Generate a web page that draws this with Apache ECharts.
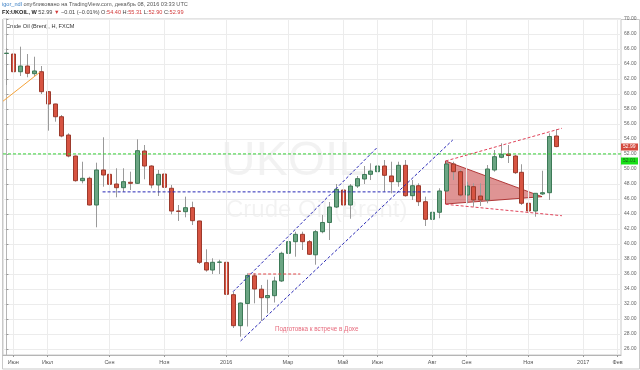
<!DOCTYPE html>
<html><head><meta charset="utf-8">
<script src="https://cdn.jsdelivr.net/npm/echarts/dist/echarts.min.js"></script>
<style>html,body{margin:0;padding:0;background:#fff}#c{width:640px;height:370px}</style>
</head><body><div id="c"></div>
<script>
// ---- weekly candles FX:UKOIL (week starting 2015-05-25 .. 2016-12-05)
const opens  = [65.40,65.33,62.97,63.73,62.71,62.97,60.31,58.67,56.97,54.53,51.73,48.44,48.76,45.20,49.87,49.29,48.00,47.51,48.23,48.09,52.40,50.40,47.87,49.33,47.43,44.40,44.31,44.84,43.07,37.51,36.53,37.56,37.56,33.24,29.11,32.07,35.76,33.97,32.84,33.11,35.07,38.76,40.31,41.29,40.31,38.56,41.64,42.87,44.93,47.20,45.20,47.73,48.67,49.29,49.64,50.40,49.07,48.31,50.49,46.44,47.77,45.64,43.29,44.23,47.07,50.67,49.64,46.53,47.64,46.40,45.87,49.87,51.56,52.00,51.73,49.56,45.43,44.40,46.67,46.84,54.40];
const closes = [65.45,62.97,63.73,62.76,63.07,60.31,58.67,56.97,54.40,51.73,48.44,48.76,45.20,49.87,49.20,47.96,47.51,48.31,48.09,52.44,50.40,47.87,49.29,47.56,44.40,44.35,44.84,43.11,37.56,36.53,37.56,37.60,33.29,29.11,32.13,35.80,34.00,32.84,33.13,35.07,38.76,40.31,41.29,40.31,38.63,41.64,42.87,44.93,47.29,45.20,47.73,48.71,49.27,49.73,50.40,49.16,48.31,50.49,46.44,47.77,45.64,43.29,44.23,47.07,50.67,49.64,46.53,47.73,45.87,45.87,50.00,51.64,51.96,51.80,49.51,45.43,44.40,46.76,46.84,54.33,52.99];
const lows   = [61.20,60.89,62.40,62.23,62.40,60.00,55.11,56.31,54.23,51.56,48.31,48.09,45.15,42.23,47.64,46.97,46.23,46.97,47.20,48.00,48.63,47.43,46.40,47.20,43.96,43.07,43.56,42.53,37.33,36.31,36.00,36.00,32.09,28.80,27.64,29.00,32.09,29.73,30.76,32.20,34.93,38.31,38.31,39.20,38.53,37.24,41.43,40.53,44.80,44.27,43.37,47.47,48.00,48.53,49.33,46.97,46.76,47.64,46.31,45.87,45.07,42.40,41.43,43.43,46.97,48.53,46.31,45.43,44.97,45.07,45.43,49.64,51.43,50.80,49.33,45.20,44.27,43.64,46.53,45.87,52.90];
const highs  = [66.10,65.64,66.31,65.33,64.97,63.73,60.40,58.70,57.20,54.76,51.80,50.97,48.97,50.84,54.23,50.13,50.09,50.09,49.64,53.96,53.20,50.50,49.87,50.84,47.87,45.20,46.31,45.64,43.10,39.29,38.09,37.90,38.84,33.60,32.20,36.09,36.09,34.53,35.24,35.64,38.97,41.07,41.64,41.64,40.53,41.87,43.87,45.60,48.00,47.43,48.00,49.07,50.40,50.76,52.76,51.20,50.97,50.97,51.20,48.53,48.09,46.31,44.53,47.43,51.20,50.97,49.87,48.31,48.09,48.10,50.53,52.53,53.43,53.20,51.87,50.63,45.60,46.80,49.77,54.76,55.31];

// x axis: 90 weekly slots, labels at selected weeks
const weekCount = 90;
const startWeek = '2015-05-25';
const tickIdx  = [1,6,15,23,32,41,49,54,62,67,76,84,89];
const tickText = ['Июн','Июл','Сен','Ноя','2016','Мар','Май','Июн','Авг','Сен','Ноя','2017','Фев'];

// drawings (x in week index, y in price)
const greenLevel = 52.01;
const blueLevelX = [14.0, 61.9], blueLevel = 46.95;
const redLevelX = [35.2, 42.8], redLevel = 36.0;
const chLowerX = [34.1, 65.0], chLowerY = [27.07, 53.87];
const chUpperX = [33.0, 54.1], chUpperY = [33.64, 52.97];
const orangeX = [-0.5, 4.85], orangeY = [59.04, 62.89];
const triX = [63.94, 63.94, 78.0], triY = [51.07, 45.33, 46.31];
const wedgeUpX = [63.97, 80.9], wedgeUpY = [51.07, 55.43];
const wedgeLoX = [63.97, 80.9], wedgeLoY = [45.29, 43.77];
const noteX = 39.1, noteY = 28.6, noteText = 'Подготовка к встрече в Дохе';
const lastPrice = 52.99;

const FONT = '"Liberation Sans", Arial, sans-serif';

const categories = [];
{
  const d0 = new Date(startWeek + 'T00:00:00Z');
  for (let i = 0; i < weekCount; i++) {
    const d = new Date(d0.getTime() + i * 7 * 86400000);
    categories.push(d.toISOString().slice(0, 10));
  }
}
const labelMap = {};
tickIdx.forEach((k, j) => { labelMap[k] = tickText[j]; });

const candleData = opens.map((o, i) => [i, o, closes[i], lows[i], highs[i]]);

function renderCandle(params, api) {
  const i = api.value(0), o = api.value(1), c = api.value(2), l = api.value(3), h = api.value(4);
  const pO = api.coord([i, o]), pC = api.coord([i, c]), pL = api.coord([i, l]), pH = api.coord([i, h]);
  const x = Math.round(pO[0]) + 0.5;
  const up = c >= o;
  const top = Math.min(pO[1], pC[1]), bot = Math.max(pO[1], pC[1]);
  return {
    type: 'group',
    children: [
      { type: 'line', shape: { x1: x, y1: pH[1], x2: x, y2: pL[1] }, style: { stroke: '#9a9a9a', lineWidth: 1 } },
      { type: 'rect', shape: { x: x - 2, y: top, width: 4, height: Math.max(bot - top, 0.3) },
        style: { fill: up ? '#6ba583' : '#d75442', stroke: up ? '#3d7a57' : '#9c3a2c', lineWidth: 1 } }
    ]
  };
}

function seg(xs, ys, color, dashed, width) {
  return {
    type: 'line', xAxisIndex: 1, yAxisIndex: 0, symbol: 'none', silent: true, z: 6,
    data: xs.map((x, i) => [x, ys[i]]),
    lineStyle: { color: color, width: width || 1, type: dashed ? [3, 2] : 'solid' },
    animation: false
  };
}

const chart = echarts.init(document.getElementById('c'), null, { renderer: 'canvas' });
const option = {
  animation: false,
  backgroundColor: '#fff',
  textStyle: { fontFamily: FONT },
  grid: { left: 3, right: 19, top: 19, bottom: 15, show: true, borderColor: '#c9c9c9', borderWidth: 1 },
  xAxis: [
    {
      type: 'category', data: categories, boundaryGap: true,
      axisLine: { show: true, lineStyle: { color: '#b5b5b5' } },
      axisTick: { show: true, alignWithLabel: true, length: 2, lineStyle: { color: '#999' },
        interval: (idx) => labelMap[idx] !== undefined },
      axisLabel: { interval: 0, fontSize: 5.5, color: '#555', margin: 4, fontFamily: FONT,
        formatter: (v, idx) => labelMap[idx] || '' },
      splitLine: { show: false }
    },
    { type: 'value', min: -0.5, max: weekCount - 0.5, show: false }
  ],
  yAxis: {
    type: 'value', position: 'right', min: 25.2, max: 70, splitNumber: 22, minInterval: 2, maxInterval: 2,
    axisLine: { show: true, lineStyle: { color: '#b5b5b5' } },
    axisTick: { show: true, length: 2, lineStyle: { color: '#999' } },
    axisLabel: { fontSize: 5, color: '#666', margin: 3, showMinLabel: false, fontFamily: FONT,
      formatter: (v) => v.toFixed(2) },
    splitLine: { show: true, lineStyle: { color: '#ececec', width: 1 } }
  },
  series: [
    {
      type: 'line', xAxisIndex: 1, data: [], silent: true, z: 1,
      markLine: { silent: true, symbol: 'none', label: { show: false }, animation: false,
        lineStyle: { color: '#ececec', width: 1, type: 'solid' },
        data: tickIdx.map(k => ({ xAxis: k })) }
    },
    {
      type: 'custom', xAxisIndex: 1, yAxisIndex: 0, z: 2, silent: true,
      data: [[0]],
      renderItem: (params, api) => {
        const pts = triX.map((x, i) => api.coord([x, triY[i]]));
        return { type: 'polygon', shape: { points: pts },
          style: { fill: 'rgba(196,60,60,0.55)', stroke: 'rgba(170,40,40,0.9)', lineWidth: 1 } };
      }
    },
    {
      name: 'UKOIL', type: 'custom', xAxisIndex: 0, yAxisIndex: 0, z: 3,
      data: candleData, encode: { x: 0, y: [1, 2, 3, 4] }, renderItem: renderCandle
    },
    Object.assign(seg([-0.5, weekCount - 0.5], [greenLevel, greenLevel], '#35d035', true), { z: 7 }),
    seg(blueLevelX, [blueLevel, blueLevel], '#2727b5', true),
    seg(redLevelX, [redLevel, redLevel], '#e04a4a', true),
    seg(chLowerX, chLowerY, '#2727b5', true),
    seg(chUpperX, chUpperY, '#2727b5', true),
    seg(orangeX, orangeY, '#f5a33a', false),
    seg(wedgeUpX, wedgeUpY, '#e0445a', true),
    seg(wedgeLoX, wedgeLoY, '#e0445a', true),
    {
      type: 'scatter', xAxisIndex: 1, yAxisIndex: 0, symbolSize: 0, silent: true, z: 8,
      data: [[noteX, noteY]],
      label: { show: true, position: 'right', distance: 0, formatter: noteText,
        color: '#e0435a', fontSize: 6.3, fontFamily: FONT }
    }
  ],
  graphic: [
    { type: 'text', left: 221, top: 138, z: 0, silent: true,
      style: { text: 'UKOIL', fontSize: 48, fontFamily: FONT, fill: 'rgba(0,0,0,0.05)' } },
    { type: 'text', left: 226, top: 198, z: 0, silent: true,
      style: { text: 'Crude Oil (Brent)', fontSize: 24, fontFamily: FONT, fill: 'rgba(0,0,0,0.05)' } },
    { type: 'text', left: 2, top: 1,
      style: { fontFamily: FONT, fontSize: 5.6,
        text: '{a|igor_ndl} {b|опубликовано на TradingView.com, декабрь 08, 2016 03:33 UTC}',
        rich: { a: { fill: '#3b7fc4', fontSize: 5.6, fontFamily: FONT }, b: { fill: '#555', fontSize: 5.6, fontFamily: FONT } } } },
    { type: 'text', left: 2, top: 9,
      style: { fontFamily: FONT, fontSize: 5.6,
        text: '{k|FX:UKOIL, W} {n|52.99} {r|▼} {n|−0.01 (−0.01%)} {n|O:}{r|54.40} {n|H:}{r|55.31} {n|L:}{r|52.90} {n|C:}{r|52.99}',
        rich: { k: { fill: '#222', fontWeight: 'bold', fontSize: 5.6, fontFamily: FONT },
                n: { fill: '#444', fontSize: 5.6, fontFamily: FONT },
                r: { fill: '#d23a3a', fontSize: 5.6, fontFamily: FONT } } } },
    { type: 'text', left: 6, top: 23,
      style: { text: 'Crude Oil (Brent), H, FXCM', fontSize: 5.6, fontFamily: FONT, fill: '#333' } },
    { type: 'rect', silent: true, z: -1, shape: { x: 2.5, y: 19.5, width: 637, height: 349.5 },
      style: { fill: 'none', stroke: '#c9c9c9', lineWidth: 1 } }
  ]
};
chart.setOption(option);

// price tags on the price scale, placed with the y scale
const yLast = chart.convertToPixel({ yAxisIndex: 0 }, lastPrice);
const yGreen = chart.convertToPixel({ yAxisIndex: 0 }, greenLevel);
chart.setOption({
  graphic: option.graphic.concat([
    { type: 'rect', shape: { x: 621, y: Math.round(yLast) - 3.5, width: 17, height: 7 }, style: { fill: '#d44a3e' }, z: 20 },
    { type: 'text', x: 623, y: Math.round(yLast), z: 21,
      style: { text: lastPrice.toFixed(2), fontSize: 5, fontFamily: FONT, fill: '#fff', verticalAlign: 'middle' } },
    { type: 'rect', shape: { x: 621, y: Math.round(yGreen) + 3.5, width: 17, height: 7 }, style: { fill: '#17e017' }, z: 20 },
    { type: 'text', x: 623, y: Math.round(yGreen) + 7, z: 21,
      style: { text: greenLevel.toFixed(2), fontSize: 5, fontFamily: FONT, fill: '#1a5c1a', verticalAlign: 'middle' } }
  ])
});
</script></body></html>
